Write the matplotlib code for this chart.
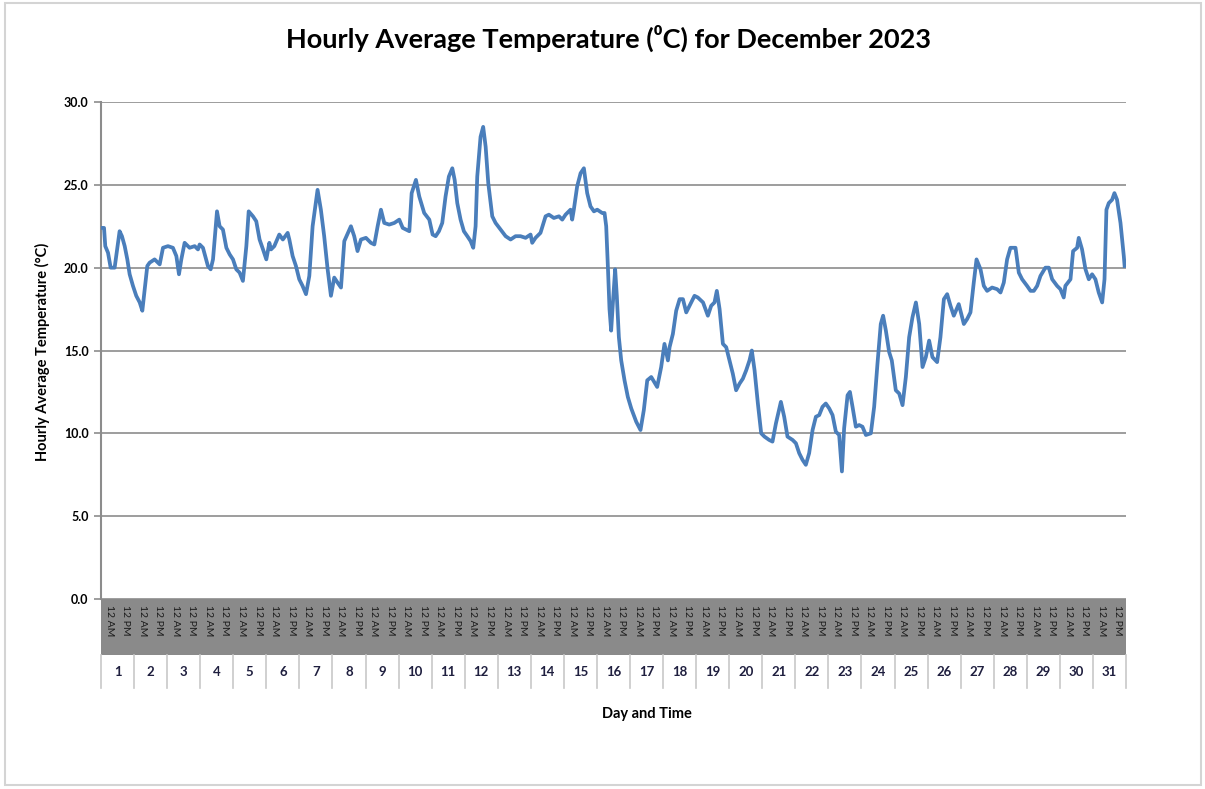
import numpy as np
import matplotlib.pyplot as plt
from matplotlib.patches import Rectangle

# hour of month (0 = 1 Dec 00:00) and temperature
hours = [0, 2.2, 3.1, 5.1, 7, 9.9, 13.5, 15.2, 17.2, 19.1, 20.8, 23.2, 25.6, 28.1, 30,
         33.6, 35.3, 38.9, 42.6, 45, 48.6, 52.2, 54.7, 56.6, 58.3, 60.7, 64.3, 68, 70.4,
         71.6, 74, 77.6, 79.6, 81.3, 84.2, 86.1, 88.5, 91, 93.4, 95.8, 98.2, 100.6, 103,
         105.5, 107.2, 110.3, 112.7, 115.1, 117.6, 120, 122.2, 123.4, 125.8, 129.4, 132,
         135.5, 136.7, 139.1, 141.5, 143.9, 146.3, 148.8, 151.2, 153.6, 157.2, 159.6, 162,
         164.5, 166.9, 169.3, 171.7, 174.2, 176.6, 181.4, 183.8, 186.2, 188.7, 192.3, 195.9,
         198.4, 200.8, 203.2, 205.6, 209.2, 212.9, 216.5, 219, 221.4, 223.8, 225.5, 228.6,
         231, 234.6, 238.3, 240.7, 242.9, 245.3, 247.7, 250.1, 252.5, 255, 256.7, 258.6,
         261, 263.4, 265.9, 268.3, 270.2, 271.9, 273.1, 275.5, 277.4, 279.2, 281.1, 284,
         286.4, 290, 293.7, 297.3, 300.9, 304.5, 308.2, 311.8, 313, 315.4, 319, 322.7,
         325.1, 328.7, 332.4, 334.8, 337.2, 340.8, 342, 343.2, 345.6, 348.1, 350.5, 352.9,
         355.3, 357.8, 360.2, 363.8, 365.5, 366.7, 368, 369.1, 370.3, 371.5, 373.2, 374.4,
         375.9, 377.6, 380, 382.4, 384.9, 388.5, 391.6, 394, 396.5, 399.4, 403.7, 406.6,
         409, 411.5, 412.7, 415.1, 417.5, 420, 422.4, 424.8, 427.2, 430.8, 433.2, 437,
         440.5, 442.9, 445.3, 447, 449, 451.4, 453.8, 456.2, 458.6, 461, 463.5, 465.9,
         468.3, 470.7, 472.4, 474.4, 476.8, 479.2, 481.6, 485, 487.4, 489.9, 493.5, 495.9,
         498.3, 502, 504.4, 506.8, 509.2, 511.6, 514, 516.5, 518.9, 521.3, 523.7, 526.1,
         528.6, 531, 533.4, 535.8, 537.8, 539.4, 541.9, 543.6, 545.5, 547.9, 550.3, 552.7,
         555.2, 558.8, 561.2, 563.6, 566, 567.7, 569.7, 572.1, 574, 576.9, 579.4, 581.8,
         584.2, 586.6, 589, 591.5, 593.9, 596.3, 598.7, 601.1, 603.5, 606.9, 609.3, 611.8,
         614.2, 616.6, 619, 622.6, 626.3, 628.7, 631.1, 633.5, 635.5, 638.4, 640.8, 643.2,
         646.8, 650.5, 652.9, 655.3, 657.7, 660.1, 663.8, 666.2, 668.6, 672.2, 674.7, 677.1,
         679.5, 681.9, 685.5, 688, 690.4, 694, 696.4, 698.8, 700, 703.7, 705.6, 708.5,
         709.7, 712.1, 714.6, 717, 719.4, 721.8, 724.2, 726.7, 728.4, 729.8, 731.5, 733.9,
         735.6, 737.5, 740, 742.4, 743]
temps = [22.4, 22.4, 21.3, 20.9, 20.0, 20.0, 22.2, 21.9, 21.3, 20.5, 19.6, 18.9, 18.3, 17.9, 17.4,
         20.1, 20.3, 20.5, 20.2, 21.2, 21.3, 21.2, 20.7, 19.6, 20.5, 21.5, 21.2, 21.3, 21.1,
         21.4, 21.2, 20.1, 19.9, 20.5, 23.4, 22.5, 22.3, 21.2, 20.8, 20.5, 19.9, 19.7, 19.2,
         21.3, 23.4, 23.1, 22.8, 21.7, 21.1, 20.5, 21.5, 21.1, 21.3, 22.0, 21.7,
         22.1, 21.7, 20.7, 20.1, 19.3, 18.9, 18.4, 19.5, 22.5, 24.7, 23.5, 21.9,
         19.9, 18.3, 19.4, 19.1, 18.8, 21.6, 22.5, 21.9, 21.0, 21.7, 21.8, 21.5,
         21.4, 22.5, 23.5, 22.7, 22.6, 22.7, 22.9, 22.4, 22.3, 22.2, 24.5, 25.3,
         24.3, 23.3, 22.9, 22.0, 21.9, 22.2, 22.7, 24.3, 25.5, 26.0, 25.3, 23.9,
         22.9, 22.2, 21.9, 21.6, 21.2, 22.5, 25.5, 27.9, 28.5, 27.3, 25.1, 23.1,
         22.7, 22.3, 21.9, 21.7, 21.9, 21.9, 21.8, 22.0, 21.5, 21.8, 22.1, 23.1,
         23.2, 23.0, 23.1, 22.9, 23.2, 23.5, 22.9, 23.5, 24.9, 25.7, 26.0, 24.5,
         23.7, 23.4, 23.5, 23.3, 23.3, 22.5, 19.9, 17.5, 16.2, 17.8, 19.9, 18.3,
         15.8, 14.4, 13.2, 12.2, 11.5, 10.7, 10.2, 11.4, 13.2, 13.4, 12.8, 14.0,
         15.4, 14.4, 15.2, 16.0, 17.4, 18.1, 18.1, 17.3, 17.7, 18.3, 18.2, 17.9,
         17.1, 17.7, 17.9, 18.6, 17.5, 15.4, 15.2, 14.4, 13.6, 12.6, 13.0, 13.3,
         13.8, 14.4, 15.0, 13.8, 11.8, 10.0, 9.8, 9.6, 9.5, 10.6, 11.9, 11.0,
         9.8, 9.6, 9.4, 8.8, 8.4, 8.1, 8.8, 10.2, 11.0, 11.1, 11.6, 11.8,
         11.5, 11.1, 10.1, 9.9, 7.7, 10.3, 12.3, 12.5, 11.6, 10.4, 10.5, 10.4,
         9.9, 10.0, 11.6, 14.2, 16.6, 17.1, 16.2, 14.9, 14.4, 12.6, 12.4, 11.7,
         13.4, 15.8, 17.0, 17.9, 16.6, 14.0, 14.6, 15.6, 14.6, 14.3, 15.8, 18.1,
         18.4, 17.7, 17.1, 17.8, 16.6, 16.9, 17.3, 19.1, 20.5, 19.9, 18.9, 18.6,
         18.8, 18.7, 18.5, 19.1, 20.5, 21.2, 21.2, 19.7, 19.3, 18.9, 18.6, 18.6,
         18.9, 19.5, 20.0, 20.0, 19.3, 18.9, 18.7, 18.2, 18.9, 19.3, 21.0, 21.2,
         21.8, 21.1, 19.9, 19.3, 19.6, 19.3, 18.5, 17.9, 19.3, 23.5, 23.9, 24.1,
         24.5, 24.1, 22.7, 20.7, 20.1]

days = [str(d) for d in range(1, 32)]
time_labels = ["12 AM", "12 PM"]

fig = plt.figure(figsize=(12.05, 7.89), dpi=100)
fig.patches.append(Rectangle((5 / 1205, 4 / 789), 1196 / 1205, 782 / 789,
                             transform=fig.transFigure, fill=False,
                             edgecolor='#d4d4d4', lw=1.5))

ax = fig.add_axes([101 / 1205, 1 - 599 / 789, 1025 / 1205, 497 / 789])
ax.plot(hours, temps, color='#4a7ebb', lw=2.7, zorder=3)

ax.set_xlim(0, 744)
ax.set_ylim(0, 30)
ax.set_yticks(np.arange(0, 31, 5))
ax.set_yticklabels([f"{v:.1f}" for v in np.arange(0, 31, 5)],
                   fontsize=9, fontweight='bold', family='Lato')
ax.grid(axis='y', color='#8c8c8c', lw=1.2)
ax.set_axisbelow(True)
ax.tick_params(axis='y', length=5, color='#8c8c8c', width=1.2, pad=4)
for s in ['top', 'right', 'bottom']:
    ax.spines[s].set_visible(False)
ax.spines['left'].set_color('#8c8c8c')
ax.spines['left'].set_linewidth(1.5)

# hourly labels squeezed into the grey band
tick_pos = np.arange(0, 744, 12) + 6
tick_lab = [time_labels[i % 2] for i in range(len(tick_pos))]
ax.set_xticks(tick_pos)
ax.set_xticklabels(tick_lab, rotation=-90, fontsize=7.5, color='#1a1a1a',
                   family='Lato', va='top', ha='center')
ax.tick_params(axis='x', length=0, pad=4)

band_h = 56 / 497
day_h = 33 / 497
ax.add_patch(Rectangle((0, -band_h), 1, band_h, transform=ax.transAxes,
                       facecolor='#8a8a8a', edgecolor='none', clip_on=False, zorder=0))
for d in range(32):
    ax.plot([d * 24, d * 24], [-band_h - day_h, -band_h],
            transform=ax.get_xaxis_transform(), color='#c8c8c8', lw=1.2,
            clip_on=False)
for d, lab in enumerate(days):
    ax.text(d * 24 + 12, -band_h - day_h / 2, lab, transform=ax.get_xaxis_transform(),
            ha='center', va='center', fontsize=9.5, fontweight='bold',
            family='Lato', color='#1f1f3f')

fig.text(608 / 1205, 1 - 38 / 789, "Hourly Average Temperature (⁰C) for December 2023",
         ha='center', va='center', fontsize=19.5, fontweight='bold',
         family=['Lato', 'DejaVu Sans'])
fig.text(647 / 1205, 1 - 714 / 789, "Day and Time", ha='center', va='center',
         fontsize=10.5, fontweight='bold', family='Lato')
fig.text(42 / 1205, 1 - 352 / 789, "Hourly Average Temperature (°C)", ha='center',
         va='center', rotation=90, fontsize=10.5, fontweight='bold', family='Lato')

fig.savefig('out.png', dpi=100)
